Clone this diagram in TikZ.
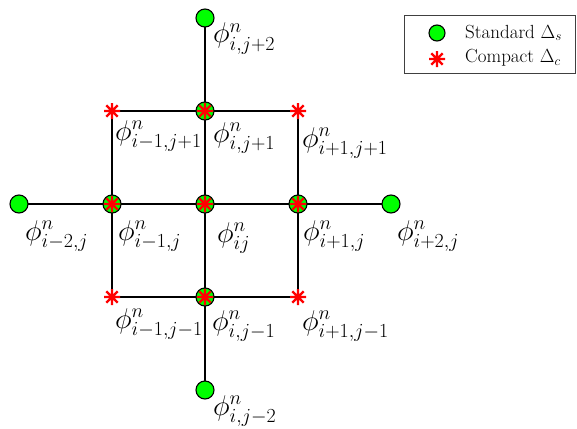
\documentclass[tikz,border=0pt]{standalone}
\usepackage{fix-cm}
\begin{document}
\begin{tikzpicture}[x=1pt,y=-1pt,
  grid/.style={line width=1.6pt,black},
  std/.style={circle,draw=black,fill=green,line width=1.1pt,minimum size=18pt,inner sep=0pt},
  pt/.style={inner sep=0pt,minimum size=0pt},
  lab/.style={anchor=base west,inner sep=0pt,font=\fontsize{28.5}{33}\selectfont},
  legtext/.style={anchor=base west,inner sep=0pt,font=\fontsize{19}{23}\selectfont},
  legbox/.style={draw=black!75,line width=0.9pt,fill=white},
  ast/.pic={\draw[red,line width=2.4pt] (-8,0)--(8,0) (0,-8)--(0,8) (-5.7,-5.7)--(5.7,5.7) (-5.7,5.7)--(5.7,-5.7);}]
\useasboundingbox (0,0) rectangle (577,428);
% grid points
\node[pt] (t)  at (205,18) {};
\node[pt] (b)  at (205,390) {};
\node[pt] (l)  at (19,204) {};
\node[pt] (r)  at (391,204) {};
\node[pt] (nw) at (112,111) {};
\node[pt] (n)  at (205,111) {};
\node[pt] (ne) at (298,111) {};
\node[pt] (w)  at (112,204) {};
\node[pt] (c)  at (205,204) {};
\node[pt] (e)  at (298,204) {};
\node[pt] (sw) at (112,297) {};
\node[pt] (s)  at (205,297) {};
\node[pt] (se) at (298,297) {};
% labels
\node[lab] (Lt)  at (213,43)  {$\phi^n_{i,j+2}$};
\node[lab] (Lnw) at (115,140) {$\phi^n_{i-1,j+1}$};
\node[lab] (Ln)  at (213,142) {$\phi^n_{i,j+1}$};
\node[lab] (Lne) at (302,147) {$\phi^n_{i+1,j+1}$};
\node[lab] (Ll)  at (25,240)  {$\phi^n_{i-2,j}$};
\node[lab] (Lw)  at (118,240) {$\phi^n_{i-1,j}$};
\node[lab] (Lc)  at (217,242) {$\phi^n_{ij}$};
\node[lab] (Le)  at (303,240) {$\phi^n_{i+1,j}$};
\node[lab] (Lr)  at (397,240) {$\phi^n_{i+2,j}$};
\node[lab] (Lsw) at (115,328) {$\phi^n_{i-1,j-1}$};
\node[lab] (Ls)  at (212,330) {$\phi^n_{i,j-1}$};
\node[lab] (Lse) at (302,330) {$\phi^n_{i+1,j-1}$};
\node[lab] (Lb)  at (213,415) {$\phi^n_{i,j-2}$};
% connectors
\draw[grid] (t.center) -- (b.center);
\draw[grid] (l.center) -- (r.center);
\draw[grid] (nw.center) -- (ne.center) -- (se.center) -- (sw.center) -- cycle;
% standard markers
\foreach \p in {t,b,l,r,n,w,c,e,s}{\node[std] at (\p) {};}
% compact markers
\foreach \p in {nw,n,ne,w,c,e,sw,s,se}{\pic at (\p) {ast};}
% legend
\node[legbox,minimum width=171pt,minimum height=58pt,anchor=north west,inner sep=0pt] (leg) at (404,15) {};
\node[std,minimum size=16pt] (legc) at (437,33) {};
\pic at (437,59) {ast};
\node[legtext] (legs) at (465,38) {Standard $\Delta_s$};
\node[legtext] (legk) at (465,63) {Compact $\Delta_c$};
\end{tikzpicture}
\end{document}
